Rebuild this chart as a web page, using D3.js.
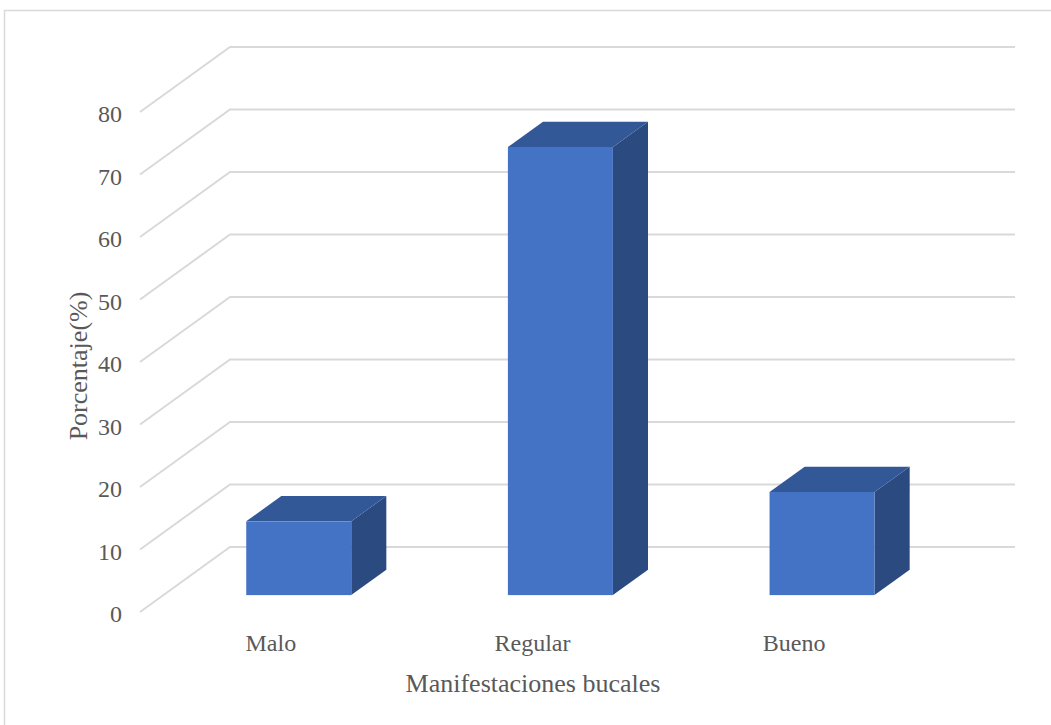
<!DOCTYPE html>
<html><head><meta charset="utf-8">
<script src="https://cdn.jsdelivr.net/npm/d3@7"></script>
<style>body{margin:0;background:#fff}svg{display:block}</style>
</head><body>
<svg id="c" width="1051" height="725"></svg>
<script>
const categories = ["Malo", "Regular", "Bueno"];
const values = [11.8, 71.7, 16.5];
const tickValues = [0, 10, 20, 30, 40, 50, 60, 70, 80];
const yTitle = "Porcentaje(%)";
const xTitle = "Manifestaciones bucales";

const svg = d3.select("#c");
const font = "'Liberation Serif','Times New Roman',serif";
const depthDx = 90, depthDy = -65;
const y = d3.scaleLinear().domain([0, 80]).range([612, 112]);
const x = d3.scaleBand().domain(categories).range([140, 925]);
const t0 = 0.26, t1 = 0.65, barW = 105, barShift = 4.5;

svg.append("rect").attr("x", 4.5).attr("y", 10.5).attr("width", 1060).attr("height", 730)
  .attr("fill", "#fff").attr("stroke", "#d9d9d9").attr("stroke-width", 1.5);

const grid = svg.append("g").attr("stroke", "#d9d9d9").attr("stroke-width", 2).attr("fill", "none");
tickValues.forEach(v => {
  grid.append("path").attr("d", `M${140},${y(v)}L${140 + depthDx},${y(v) + depthDy}L1015,${y(v) + depthDy}`);
});

svg.append("g").selectAll("text").data(tickValues).join("text")
  .attr("x", 122).attr("y", d => y(d) + 2).attr("dy", "0.35em").attr("text-anchor", "end")
  .attr("font-family", font).attr("font-size", 24).attr("fill", "#595959").text(d => d);

const bars = svg.append("g");
categories.forEach((c, i) => {
  const cx = x(c) + x.bandwidth() / 2;
  const fx = cx + depthDx * t0 - barW / 2 + barShift;
  const fb = y(0) + depthDy * t0;
  const ft = y(values[i]) + depthDy * t0;
  const ox = depthDx * (t1 - t0), oy = depthDy * (t1 - t0);
  bars.append("path").attr("fill", "#2b4a7f")
    .attr("d", `M${fx + barW},${ft}L${fx + barW + ox},${ft + oy}L${fx + barW + ox},${fb + oy}L${fx + barW},${fb}Z`);
  bars.append("path").attr("fill", "#335898")
    .attr("d", `M${fx},${ft}L${fx + ox},${ft + oy}L${fx + barW + ox},${ft + oy}L${fx + barW},${ft}Z`);
  bars.append("rect").attr("fill", "#4472c4").attr("x", fx).attr("y", ft).attr("width", barW).attr("height", fb - ft);
});

svg.append("g").selectAll("text").data(categories).join("text")
  .attr("x", d => x(d) + x.bandwidth() / 2).attr("y", 651).attr("text-anchor", "middle")
  .attr("font-family", font).attr("font-size", 24).attr("fill", "#595959").text(d => d);

svg.append("text").attr("x", 533).attr("y", 692).attr("text-anchor", "middle")
  .attr("font-family", font).attr("font-size", 26).attr("fill", "#595959").text(xTitle);

svg.append("text").attr("transform", "translate(87,366) rotate(-90)").attr("text-anchor", "middle")
  .attr("font-family", font).attr("font-size", 26).attr("fill", "#595959").text(yTitle);
</script>
</body></html>
